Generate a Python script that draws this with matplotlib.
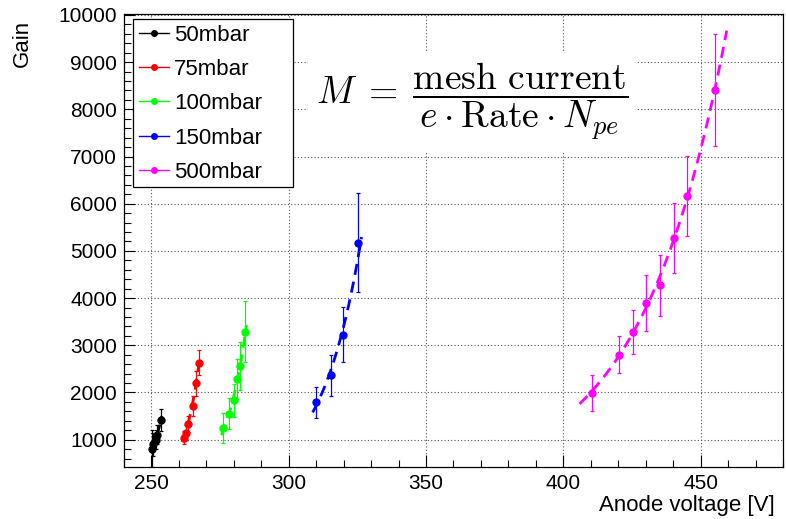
import numpy as np
import matplotlib.pyplot as plt
from matplotlib.ticker import MultipleLocator
from matplotlib.lines import Line2D
from matplotlib.patches import Rectangle

plt.rcParams['font.family'] = ['Liberation Sans', 'DejaVu Sans']
plt.rcParams['mathtext.fontset'] = 'cm'

# anode voltage [V], gain and gain error for each pressure
v_50 = [250.1, 250.7, 251.5, 252.2, 253.4]
g_50 = [800, 900, 1000, 1100, 1420]
e_50 = [400, 250, 200, 200, 235]

v_75 = [261.8, 262.5, 263.3, 265.0, 266.1, 267.3]
g_75 = [1045, 1150, 1330, 1720, 2200, 2630]
e_75 = [130, 150, 170, 210, 265, 270]

v_100 = [276.2, 278.2, 280.1, 281.3, 282.2, 284.1]
g_100 = [1250, 1550, 1830, 2290, 2560, 3290]
e_100 = [320, 335, 340, 420, 500, 655]

v_150 = [309.9, 315.3, 319.9, 325.3]
g_150 = [1790, 2360, 3220, 5170]
e_150 = [325, 440, 585, 1050]

v_500 = [410.3, 420.3, 425.2, 430.1, 435.2, 440.2, 445.2, 455.2]
g_500 = [1980, 2800, 3280, 3900, 4270, 5270, 6170, 8410]
e_500 = [380, 395, 460, 595, 640, 735, 850, 1180]

# voltage range of each exponential fit
fit_50 = [249.7, 253.8]
fit_75 = [261.3, 267.6]
fit_100 = [275.5, 284.6]
fit_150 = [308.7, 326.5]
fit_500 = [405.9, 459.5]

labels = ['50mbar', '75mbar', '100mbar', '150mbar', '500mbar']
colors = ['#000000', '#ff0000', '#00ff00', '#0000ff', '#ff00ff']

sets = [(v_50, g_50, e_50, fit_50), (v_75, g_75, e_75, fit_75),
        (v_100, g_100, e_100, fit_100), (v_150, g_150, e_150, fit_150),
        (v_500, g_500, e_500, fit_500)]

fig = plt.figure(figsize=(7.86, 5.19), dpi=100)
ax = fig.add_axes([124/786, 1 - 467/519, 659/786, 453/519])

for (v, g, e, rng), c in zip(sets, colors):
    v = np.array(v); g = np.array(g); e = np.array(e)
    ax.errorbar(v, g, yerr=e, fmt='o', color=c, ms=5, elinewidth=0.9,
                capsize=1.5, capthick=0.9, zorder=3)
    # exponential fit: log(gain) linear in voltage
    p = np.polyfit(v, np.log(g), 1, w=g / e)
    xf = np.linspace(rng[0], rng[1], 100)
    ax.plot(xf, np.exp(np.polyval(p, xf)), color=c, lw=2.0,
            dashes=(4, 2.5), zorder=4)

ax.set_xlim(240, 480)
ax.set_ylim(420, 10020)
ax.xaxis.set_major_locator(MultipleLocator(50))
ax.xaxis.set_minor_locator(MultipleLocator(10))
ax.yaxis.set_major_locator(MultipleLocator(1000))
ax.yaxis.set_minor_locator(MultipleLocator(200))
ax.tick_params(which='both', direction='in', top=False, right=False,
               labelsize=15, width=0.8)
ax.tick_params(which='major', length=9, pad=5)
ax.tick_params(axis='y', which='major', length=8)
ax.tick_params(which='minor', length=5)
ax.grid(True, which='major', color='#555555', linestyle=(0, (1, 2)), lw=0.8)
for s in ax.spines.values():
    s.set_linewidth(0.9)

ax.set_xlabel('Anode voltage [V]', fontsize=16, loc='right')
ax.xaxis.set_label_coords(0.988, -0.062)
ax.set_ylabel('Gain', fontsize=16, loc='top')
ax.yaxis.set_label_coords(-0.138, 0.987)

# legend box drawn by hand, wider than the entries
box_x, box_top, box_w, box_h = 0.0137, 0.989, 0.243, 0.371
ax.add_patch(Rectangle((box_x, box_top - box_h), box_w, box_h,
                       transform=ax.transAxes, facecolor='white',
                       edgecolor='black', lw=0.9, zorder=6))
handles = [Line2D([], [], color=c, marker='o', ms=4, lw=1) for c in colors]
leg = ax.legend(handles, labels, loc='upper left',
                bbox_to_anchor=(box_x, box_top), borderaxespad=0,
                fontsize=16, frameon=False, handlelength=1.35,
                handletextpad=0.25, labelspacing=0.6, borderpad=0.25)
leg.set_zorder(7)

ax.text(0.528, 0.806,
        r'$M \;=\; \dfrac{\mathrm{mesh\ current}}{e \cdot \mathrm{Rate} \cdot N_{pe}}$',
        transform=ax.transAxes, ha='center', va='center', fontsize=27,
        bbox=dict(facecolor='white', edgecolor='none', pad=6), zorder=5)

fig.savefig('out.png', dpi=100)
